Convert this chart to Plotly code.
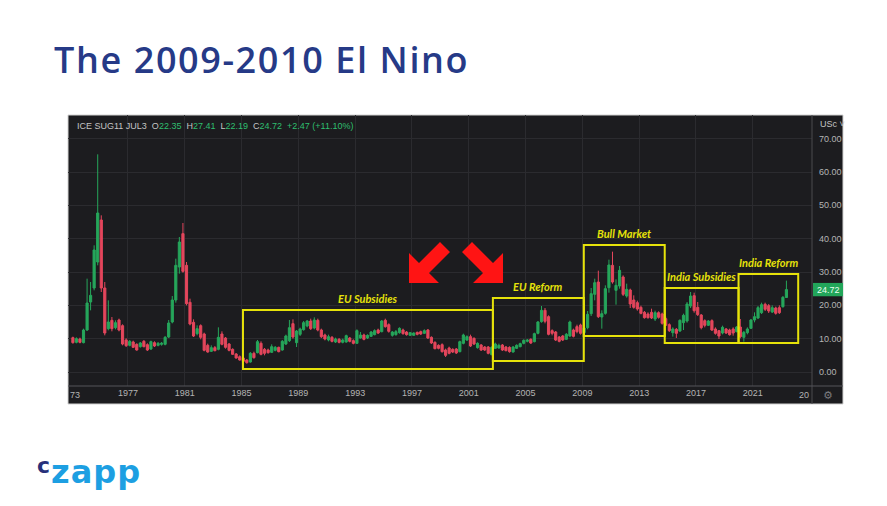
import datetime as dt
import pandas as pd
import plotly.graph_objects as go

# the page body keeps an 8px margin, so the figure is 16px smaller than the window
PAGE_W, PAGE_H = 887, 506
OFF = 8
W, H = PAGE_W - 2 * OFF, PAGE_H - 2 * OFF

# ICE Sugar No.11 continuous, quarterly candles 1973 Q1 .. 2023 Q2 (US cents / lb)
opens = [
    10.3, 8.9, 9.9, 8.8,      # 1973
    12.6, 21.0, 25.2, 33.0,   # 1974
    45.6, 25.2, 13.0, 15.5,   # 1975
    13.3, 15.6, 13.9, 9.6,    # 1976
    8.0, 9.0, 8.3, 7.6,       # 1977
    9.2, 8.2, 6.9, 8.8,       # 1978
    8.0, 8.3, 8.3, 10.5,      # 1979
    15.0, 21.6, 31.5, 41.5,   # 1980
    32.0, 20.9, 14.9, 11.5,   # 1981
    13.9, 11.4, 8.0, 6.2,     # 1982
    7.3, 6.8, 11.4, 10.2,     # 1983
    8.4, 6.8, 5.4, 4.6,       # 1984
    4.2, 3.6, 3.0, 5.6,       # 1985
    5.8, 8.6, 6.8, 6.6,       # 1986
    5.9, 6.5, 7.4, 6.6,       # 1987
    8.4, 9.4, 14.5, 8.8,      # 1988
    11.3, 12.7, 13.8, 15.3,   # 1989
    13.2, 15.5, 12.6, 11.1,   # 1990
    9.6, 10.4, 9.0, 9.8,      # 1991
    8.9, 9.0, 10.2, 9.4,      # 1992
    8.6, 10.2, 11.1, 10.2,    # 1993
    10.7, 11.2, 12.6, 12.1,   # 1994
    15.5, 14.2, 11.0, 11.2,   # 1995
    11.8, 12.6, 12.0, 11.0,   # 1996
    11.0, 11.9, 12.1, 11.6,   # 1997
    12.6, 10.4, 8.9, 8.0,     # 1998
    8.2, 6.6, 7.2, 6.8,       # 1999
    6.9, 6.1, 8.6, 9.6,       # 2000
    10.6, 10.1, 7.3, 8.1,     # 2001
    7.5, 7.5, 5.2, 7.1,       # 2002
    7.2, 8.1, 7.5, 7.4,       # 2003
    6.0, 7.1, 7.6, 8.6,       # 2004
    9.2, 9.8, 9.1, 11.6,      # 2005
    15.1, 18.5, 16.6, 12.4,   # 2006
    12.0, 10.5, 10.8, 9.8,    # 2007
    10.8, 12.6, 13.6, 14.1,   # 2008
    11.8, 13.3, 17.5, 23.3,   # 2009
    27.0, 16.5, 17.6, 25.3,   # 2010
    32.0, 24.5, 25.8, 28.5,   # 2011
    22.8, 24.6, 21.6, 20.8,   # 2012
    19.4, 17.9, 17.4, 17.9,   # 2013
    15.9, 17.8, 17.4, 16.0,   # 2014
    14.2, 11.8, 12.8, 12.3,   # 2015
    14.8, 15.3, 19.8, 22.9,   # 2016
    19.4, 17.1, 15.4, 14.0,   # 2017
    15.4, 12.9, 12.4, 11.7,   # 2018
    12.9, 12.6, 12.9, 12.1,   # 2019
    13.5, 10.4, 11.8, 13.1,   # 2020
    15.6, 16.2, 17.8, 20.3,   # 2021
    19.9, 18.0, 19.2, 19.3,   # 2022
    19.6, 22.35,              # 2023
]
highs = [
    10.6, 10.4, 10.3, 13.0,
    28.0, 27.0, 38.0, 65.3,
    47.0, 27.0, 21.5, 16.5,
    15.5, 16.0, 14.3, 10.1,
    9.6, 9.4, 8.6, 9.0,
    9.6, 8.6, 9.4, 9.2,
    9.0, 9.0, 10.8, 15.6,
    22.8, 34.0, 40.5, 44.7,
    33.0, 22.0, 15.8, 14.0,
    14.3, 11.8, 8.5, 8.0,
    7.8, 13.4, 12.2, 10.5,
    8.7, 7.1, 5.7, 5.0,
    4.5, 3.9, 6.0, 6.1,
    9.6, 9.2, 7.2, 7.0,
    8.3, 7.8, 7.6, 9.6,
    11.2, 15.6, 15.8, 12.6,
    13.3, 15.3, 15.6, 16.0,
    16.4, 16.0, 13.0, 11.5,
    11.2, 10.8, 10.3, 10.2,
    10.0, 11.2, 10.5, 9.8,
    12.8, 12.0, 11.5, 11.3,
    12.3, 12.8, 13.0, 15.6,
    16.0, 14.6, 12.3, 12.6,
    13.4, 13.0, 12.3, 12.0,
    11.9, 12.1, 12.4, 12.8,
    12.9, 10.7, 9.2, 8.3,
    8.6, 7.0, 7.6, 7.1,
    7.2, 9.4, 11.5, 11.0,
    11.2, 10.4, 8.9, 8.4,
    7.8, 7.8, 7.7, 8.8,
    8.5, 8.4, 7.8, 7.7,
    7.8, 8.3, 8.8, 9.8,
    9.9, 10.1, 11.8, 15.3,
    19.8, 19.2, 17.0, 12.8,
    12.3, 10.8, 11.1, 11.7,
    15.4, 13.0, 14.2, 14.5,
    14.2, 18.3, 25.2, 28.0,
    30.4, 18.5, 26.0, 33.7,
    36.1, 27.8, 31.8, 29.0,
    26.5, 25.0, 23.0, 21.4,
    19.9, 18.3, 17.9, 19.0,
    18.4, 18.2, 17.8, 16.6,
    14.6, 13.4, 13.2, 15.8,
    17.5, 21.0, 24.0, 23.8,
    21.0, 17.4, 15.8, 15.6,
    15.8, 13.4, 12.6, 13.9,
    13.2, 13.0, 13.4, 13.8,
    15.9, 12.3, 13.4, 15.9,
    17.9, 19.8, 20.8, 20.8,
    20.4, 20.0, 19.6, 20.0,
    22.8, 27.41,
]
lows = [
    8.5, 8.6, 8.6, 8.6,
    12.3, 18.5, 24.5, 32.0,
    24.0, 11.0, 12.5, 12.2,
    12.8, 12.2, 8.0, 7.5,
    7.7, 7.2, 6.4, 7.3,
    7.4, 6.3, 6.6, 7.5,
    7.7, 7.9, 8.0, 10.2,
    14.6, 20.8, 29.5, 29.8,
    20.0, 14.0, 10.5, 11.0,
    9.8, 6.2, 5.8, 6.0,
    6.2, 6.5, 8.0, 7.0,
    6.2, 5.1, 4.0, 3.4,
    3.0, 2.5, 2.8, 4.0,
    5.6, 5.0, 5.0, 5.5,
    5.7, 6.2, 5.9, 6.4,
    8.1, 9.0, 10.0, 7.5,
    10.8, 12.4, 13.4, 12.6,
    12.8, 12.2, 10.2, 9.5,
    9.2, 8.9, 8.7, 8.6,
    8.6, 8.8, 8.9, 8.3,
    8.4, 10.0, 9.5, 9.9,
    10.5, 11.0, 11.4, 11.9,
    13.3, 11.8, 10.6, 10.9,
    11.5, 11.2, 10.9, 10.8,
    10.8, 11.0, 11.1, 11.4,
    9.9, 8.4, 6.8, 6.8,
    5.8, 4.5, 5.3, 5.7,
    5.4, 5.9, 8.3, 9.3,
    7.5, 8.1, 7.0, 6.3,
    6.3, 5.3, 5.0, 6.9,
    7.0, 6.3, 6.2, 5.8,
    5.8, 6.9, 7.4, 8.3,
    8.9, 8.4, 8.9, 11.3,
    14.8, 14.6, 11.0, 11.0,
    9.3, 8.9, 9.3, 9.6,
    10.5, 10.4, 11.6, 11.2,
    11.3, 12.8, 16.8, 21.5,
    16.2, 13.0, 17.2, 23.8,
    26.5, 20.2, 25.0, 22.8,
    22.3, 19.2, 19.0, 18.4,
    17.3, 16.0, 16.0, 15.9,
    15.3, 16.0, 14.2, 13.8,
    12.0, 10.6, 10.2, 12.0,
    12.6, 14.8, 19.2, 17.8,
    16.8, 12.8, 13.4, 13.8,
    12.3, 11.2, 9.9, 11.3,
    11.4, 10.9, 10.9, 11.9,
    10.1, 9.1, 11.3, 12.9,
    14.9, 15.9, 17.4, 18.3,
    17.7, 17.7, 17.2, 17.4,
    19.3, 22.19,
]
closes = [
    8.8, 10.0, 8.9, 12.6,
    20.7, 23.0, 36.6, 47.7,
    25.2, 11.7, 15.0, 13.0,
    14.8, 12.6, 8.4, 7.9,
    9.2, 7.4, 6.6, 8.7,
    7.6, 6.6, 9.1, 7.8,
    8.6, 8.6, 10.4, 14.7,
    21.6, 32.0, 39.0, 30.2,
    20.5, 14.4, 10.8, 13.0,
    10.4, 6.5, 6.0, 7.3,
    6.4, 10.4, 8.3, 7.4,
    6.5, 5.3, 4.2, 3.6,
    3.2, 2.8, 5.6, 4.3,
    9.1, 5.3, 5.6, 5.8,
    7.6, 7.4, 6.1, 9.2,
    10.8, 13.3, 10.5, 12.3,
    12.9, 14.8, 15.3, 13.0,
    15.6, 12.6, 10.6, 9.9,
    10.6, 9.2, 9.9, 8.9,
    9.6, 10.9, 9.2, 8.6,
    12.4, 11.1, 9.8, 11.0,
    12.0, 12.4, 11.7, 15.3,
    13.6, 12.2, 12.0, 12.1,
    13.1, 11.5, 11.2, 11.8,
    11.7, 11.3, 11.4, 12.4,
    10.2, 8.7, 7.0, 7.1,
    6.1, 5.0, 5.6, 6.0,
    5.7, 9.1, 11.1, 10.6,
    7.8, 8.4, 8.6, 6.6,
    6.6, 5.6, 7.4, 8.4,
    8.0, 6.6, 6.4, 6.1,
    7.5, 8.0, 8.5, 9.5,
    9.6, 8.7, 11.5, 15.0,
    18.5, 15.2, 11.3, 11.6,
    9.6, 9.2, 9.6, 11.3,
    15.0, 10.7, 12.1, 11.6,
    13.2, 17.3, 23.5, 26.8,
    16.6, 17.5, 25.0, 32.1,
    27.0, 26.0, 30.5, 23.3,
    24.8, 20.4, 19.4, 18.9,
    17.6, 16.3, 16.3, 16.2,
    17.8, 16.4, 14.6, 14.0,
    12.4, 12.9, 11.6, 15.5,
    17.0, 20.4, 22.8, 18.4,
    17.2, 13.3, 14.0, 15.3,
    12.6, 11.6, 10.8, 13.4,
    11.7, 11.2, 11.7, 13.5,
    10.6, 11.9, 12.9, 15.6,
    16.6, 19.3, 20.2, 18.8,
    18.3, 19.3, 17.6, 17.8,
    22.4, 24.72,
]

quarters = pd.date_range("1973-01-01", periods=len(closes), freq="QS") + pd.Timedelta(days=45)

year_ticks = [1977, 1981, 1985, 1989, 1993, 1997, 2001, 2005, 2009, 2013, 2017, 2021]
price_ticks = [0, 10, 20, 30, 40, 50, 60, 70]

# highlighted periods (years, price range)
regions = ["EU Subsidies", "EU Reform", "Bull Market", "India Subsidies", "India Reform"]
region_start = [1985.1, 2002.7, 2009.1, 2014.8, 2020.0]
region_end = [2002.7, 2009.1, 2014.8, 2020.0, 2024.2]
region_low = [0.9, 3.3, 10.8, 8.7, 8.7]
region_high = [18.6, 22.2, 38.1, 25.2, 29.4]

UP = "#26a65b"
DOWN = "#e4465c"
PANEL = "#1c1c1f"
GRID = "#2b2b2f"
AXIS_TXT = "#b4b4b4"
YELLOW = "#e6e20a"


def yr(y):
    # decimal year -> date
    base = dt.datetime(int(y), 1, 1)
    return base + dt.timedelta(days=(y - int(y)) * 365.25)


def px(x):
    # page pixel -> paper x
    return (x - OFF) / W


def py(y):
    # page pixel -> paper y
    return 1 - (y - OFF) / H


fig = go.Figure()

fig.add_trace(go.Candlestick(
    x=quarters, open=opens, high=highs, low=lows, close=closes,
    increasing=dict(line=dict(color=UP, width=1), fillcolor=UP),
    decreasing=dict(line=dict(color=DOWN, width=1), fillcolor=DOWN),
    whiskerwidth=0,
    showlegend=False,
    hoverinfo="skip",
))

shapes = []
# dark chart panel and separators
shapes.append(dict(type="rect", xref="paper", yref="paper", layer="below",
                   x0=px(68), x1=px(843), y0=py(404), y1=py(115),
                   fillcolor=PANEL, line=dict(color="#d2d2d2", width=1)))
shapes.append(dict(type="line", xref="paper", yref="paper",
                   x0=px(812), x1=px(812), y0=py(404), y1=py(115),
                   line=dict(color="#4a4a4e", width=1)))
shapes.append(dict(type="line", xref="paper", yref="paper",
                   x0=px(68), x1=px(843), y0=py(386), y1=py(386),
                   line=dict(color="#55555a", width=1)))
# last price tag
shapes.append(dict(type="rect", xref="paper", yref="y",
                   x0=px(813), x1=px(843), y0=closes[-1] - 2.0, y1=closes[-1] + 2.0,
                   fillcolor="#22a65a", line=dict(width=0)))

# yellow period boxes
for s, e, lo, hi in zip(region_start, region_end, region_low, region_high):
    shapes.append(dict(type="rect", xref="x", yref="y",
                       x0=yr(s), x1=yr(e), y0=lo, y1=hi,
                       line=dict(color=YELLOW, width=2), fillcolor="rgba(0,0,0,0)"))


# red block arrows (pixel outlines)
def arrow_path(pts):
    return "M " + " L ".join(f"{px(x)},{py(y)}" for x, y in pts) + " Z"


left_arrow = [(409, 283), (409, 253), (419, 263), (440, 242), (450, 252), (429, 273), (439, 283)]
right_arrow = [(912 - x, y) for x, y in left_arrow]
for pts in (left_arrow, right_arrow):
    shapes.append(dict(type="path", xref="paper", yref="paper", path=arrow_path(pts),
                       fillcolor="#ff1414", line=dict(width=0)))

annotations = []
# title
annotations.append(dict(
    xref="paper", yref="paper", x=px(52), y=py(59), xanchor="left", yanchor="middle",
    text="<span style='letter-spacing:1.6px'>The 2009-2010 El Nino</span>",
    showarrow=False, font=dict(family="Open Sans", size=36, color="#263a87", weight=600),
))
# logo
annotations.append(dict(
    xref="paper", yref="paper", x=px(35), y=py(465), xanchor="left", yanchor="middle",
    text="c", showarrow=False,
    font=dict(family="DejaVu Sans", size=22, color="#27307a", weight="bold"),
))
annotations.append(dict(
    xref="paper", yref="paper", x=px(49), y=py(472), xanchor="left", yanchor="middle",
    text="<span style='letter-spacing:1px'>zapp</span>", showarrow=False,
    font=dict(family="DejaVu Sans", size=32, color="#1d9fe2", weight="bold"),
))

# symbol line
g = "#2fbf6f"
legend_txt = (
    "ICE SUG11 JUL3  O<span style='color:%s'>%.2f</span>  H<span style='color:%s'>%.2f</span>"
    "  L<span style='color:%s'>%.2f</span>  C<span style='color:%s'>%.2f</span>"
    "  <span style='color:%s'>+2.47 (+11.10%%)</span>"
) % (g, opens[-1], g, highs[-1], g, lows[-1], g, closes[-1], g)
annotations.append(dict(
    xref="paper", yref="paper", x=px(75), y=py(126), xanchor="left", yanchor="middle",
    text=legend_txt, showarrow=False,
    font=dict(family="Liberation Sans", size=9, color="#c4c4c4"),
))
annotations.append(dict(
    xref="paper", yref="paper", x=px(818), y=py(124), xanchor="left", yanchor="middle",
    text="USc ˅", showarrow=False, font=dict(family="Liberation Sans", size=9, color="#c4c4c4"),
))
annotations.append(dict(
    xref="paper", yref="y", x=px(828), y=closes[-1], xanchor="center", yanchor="middle",
    text="%.2f" % closes[-1], showarrow=False,
    font=dict(family="Liberation Sans", size=9, color="#e8fff0"),
))
# clipped edge labels of the time scale
annotations.append(dict(
    xref="paper", yref="paper", x=px(68), y=py(395), xanchor="left", yanchor="middle",
    text="73", showarrow=False, font=dict(family="Liberation Sans", size=9, color=AXIS_TXT),
))
annotations.append(dict(
    xref="paper", yref="paper", x=px(811), y=py(395), xanchor="right", yanchor="middle",
    text="20", showarrow=False, font=dict(family="Liberation Sans", size=9, color=AXIS_TXT),
))
annotations.append(dict(
    xref="paper", yref="paper", x=px(828), y=py(395), xanchor="center", yanchor="middle",
    text="⚙", showarrow=False, font=dict(family="DejaVu Sans", size=11, color="#7a7a7e"),
))
# period labels
for name, s, e, hi in zip(regions, region_start, region_end, region_high):
    annotations.append(dict(
        xref="x", yref="y", x=yr((s + e) / 2), y=hi, xanchor="center", yanchor="bottom",
        yshift=3, text="<b><i>%s</i></b>" % name, showarrow=False,
        font=dict(family="Lato", size=11, color=YELLOW),
    ))

fig.update_layout(
    width=W, height=H,
    margin=dict(l=0, r=0, t=0, b=0),
    paper_bgcolor="white",
    plot_bgcolor=PANEL,
    boxgap=0.12,
    shapes=shapes,
    annotations=annotations,
    xaxis=dict(
        domain=[px(68), px(812)],
        type="date",
        range=[yr(1972.78), yr(2025.17)],
        rangeslider=dict(visible=False),
        tickvals=[dt.datetime(y, 1, 1) for y in year_ticks],
        ticktext=[str(y) for y in year_ticks],
        tickfont=dict(family="Liberation Sans", size=9, color=AXIS_TXT),
        showgrid=True, gridcolor=GRID, gridwidth=1,
        zeroline=False, showline=False, ticks="",
    ),
    yaxis=dict(
        domain=[py(386), py(115)],
        range=[-4.2, 77.1],
        side="right",
        tickvals=price_ticks,
        ticktext=["%.2f" % v for v in price_ticks],
        tickfont=dict(family="Liberation Sans", size=9, color=AXIS_TXT),
        ticklabelstandoff=6,
        showgrid=True, gridcolor=GRID, gridwidth=1,
        zeroline=False, showline=False, ticks="",
    ),
)

fig.write_html("out.html")
